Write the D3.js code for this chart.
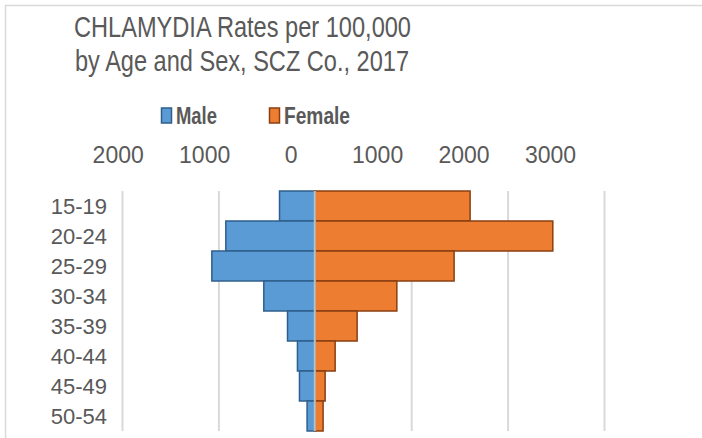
<!DOCTYPE html>
<html>
<head>
<meta charset="utf-8">
<script src="https://cdn.jsdelivr.net/npm/d3@7"></script>
<style>
  body { margin: 0; background: #fff; }
  text { font-family: "Liberation Sans", Arial, sans-serif; fill: #595959; }
</style>
</head>
<body>
<script>
// data (rate per 100,000)
var ageGroups = ["15-19", "20-24", "25-29", "30-34", "35-39", "40-44", "45-49", "50-54"]
var maleRates = [366, 923, 1068, 529, 283, 180, 159, 80]
var femaleRates = [1611, 2469, 1445, 851, 439, 211, 107, 86]
var tickValues = [-2000, -1000, 0, 1000, 2000, 3000]

var W = 702, H = 438

var svg = d3.select("body").append("svg")
            .attr("width", W)
            .attr("height", H)

// outer chart border
svg.append("rect")
   .attr("x", 5.5).attr("y", 5.5)
   .attr("width", W + 10).attr("height", H + 10)
   .attr("fill", "none")
   .attr("stroke", "#d9d9d9")
   .attr("stroke-width", 1.5)

var x = d3.scaleLinear().domain([-2000, 3000]).range([122, 604])
// excel drew the labels a little off the gridlines
var xLabels = d3.scaleLinear().domain([-2000, 3000]).range([117.7, 550])
var y = d3.scaleBand().domain(ageGroups).range([191, 431]).padding(0)

// title (narrow rendering in the original, so squeeze it)
var title = svg.append("g").style("font-size", "29px")
title.append("text").attr("x", 74).attr("y", 37)
     .attr("textLength", 337).attr("lengthAdjust", "spacingAndGlyphs")
     .text("CHLAMYDIA Rates per 100,000")
title.append("text").attr("x", 75).attr("y", 71)
     .attr("textLength", 334).attr("lengthAdjust", "spacingAndGlyphs")
     .text("by Age and Sex, SCZ Co., 2017")

// legend
var legend = [
  {name: "Male", fill: "#5b9bd5", stroke: "#2e5f8c", x: 161, w: 41},
  {name: "Female", fill: "#ed7d31", stroke: "#8a3f10", x: 269, w: 66}
]
var lg = svg.selectAll(".lg").data(legend).enter().append("g")
            .attr("transform", d => "translate(" + d.x + ",0)")
lg.append("rect")
  .attr("x", 0.5).attr("y", 108)
  .attr("width", 10).attr("height", 15)
  .attr("fill", d => d.fill)
  .attr("stroke", d => d.stroke)
  .attr("stroke-width", 1.5)
lg.append("text")
  .attr("x", 15).attr("y", 124)
  .attr("textLength", d => d.w)
  .attr("lengthAdjust", "spacingAndGlyphs")
  .style("font-size", "23px")
  .style("font-weight", "bold")
  .text(d => d.name)

// gridlines
svg.append("g")
   .attr("transform", "translate(0,191)")
   .call(d3.axisTop(x).tickValues(tickValues).tickSize(-240).tickFormat(""))
   .call(g => g.select(".domain").remove())
   .selectAll("line")
   .attr("stroke", "#d9d9d9")
   .attr("stroke-width", 2)

// top tick labels (absolute values)
svg.append("g")
   .attr("transform", "translate(0,163)")
   .call(d3.axisTop(xLabels).tickValues(tickValues).tickSize(0).tickPadding(0).tickFormat(d => Math.abs(d)))
   .call(g => g.select(".domain").remove())
   .selectAll("text")
   .attr("fill", "#595959")
   .style("font-size", "23px")
   .style("font-family", "'Liberation Sans', Arial, sans-serif")

// bars
svg.selectAll(".male").data(ageGroups).enter().append("rect")
   .attr("class", "male")
   .attr("x", (d, i) => x(-maleRates[i]))
   .attr("y", d => y(d))
   .attr("width", (d, i) => x(0) - x(-maleRates[i]))
   .attr("height", y.bandwidth())
   .attr("fill", "#5b9bd5")
   .attr("stroke", "#2e5f8c")
   .attr("stroke-width", 1.5)

svg.selectAll(".female").data(ageGroups).enter().append("rect")
   .attr("class", "female")
   .attr("x", x(0))
   .attr("y", d => y(d))
   .attr("width", (d, i) => x(femaleRates[i]) - x(0))
   .attr("height", y.bandwidth())
   .attr("fill", "#ed7d31")
   .attr("stroke", "#8a3f10")
   .attr("stroke-width", 1.5)

// zero line
svg.append("line")
   .attr("x1", x(0)).attr("x2", x(0))
   .attr("y1", 191).attr("y2", 431)
   .attr("stroke", "#bfbfbf")
   .attr("stroke-width", 2)

// age labels
svg.selectAll(".age").data(ageGroups).enter().append("text")
   .attr("x", 107)
   .attr("y", d => y(d) + y.bandwidth() / 2 + 8)
   .attr("text-anchor", "end")
   .style("font-size", "22px")
   .text(d => d)
</script>
</body>
</html>
